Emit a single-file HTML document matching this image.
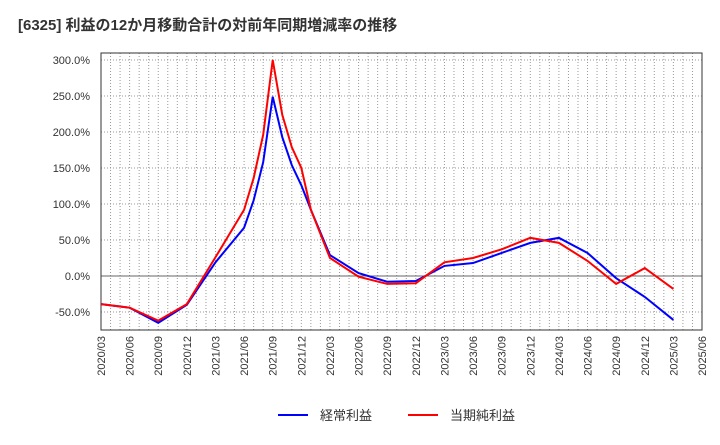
<!DOCTYPE html>
<html><head><meta charset="utf-8"><style>
body{margin:0;background:#fff;font-family:"Liberation Sans","Noto Sans CJK JP",sans-serif;}
</style></head><body>
<svg id="c" width="720" height="440" xmlns="http://www.w3.org/2000/svg">
<text x="18" y="30" font-size="15" font-weight="bold" fill="#333" font-family="Liberation Sans, Noto Sans CJK JP, sans-serif">[6325]  利益の12か月移動合計の対前年同期増減率の推移</text>
</svg>
<script>
const xLabels=["2020/03","2020/06","2020/09","2020/12","2021/03","2021/06","2021/09","2021/12","2022/03","2022/06","2022/09","2022/12","2023/03","2023/06","2023/09","2023/12","2024/03","2024/06","2024/09","2024/12","2025/03","2025/06"];
const yTicks=[-50,0,50,100,150,200,250,300];
const months=[0,3,6,9,12,15,16,17,18,19,20,21,22,24,27,30,33,36,39,42,45,48,51,54,57,60];
const opProfit=[-39,-44,-65,-40,19,67,105,158,249,193,154,126,92,29,4,-8,-7,14,18,32,46,53,32,-3,-29,-61];
const netProfit=[-39,-44,-62,-39,26,92,136,196,300,224,179,150,92,25,-1,-11,-10,19,25,37,53,46,21,-11,11,-18];
const svg=document.getElementById('c');
const NS='http://www.w3.org/2000/svg';
const L=101,R=702,T=53,B=330;
const xs=m=>L+m*(R-L)/63;
const ys=v=>276-v*36/50;
function mk(t,a){const e=document.createElementNS(NS,t);for(const k in a)e.setAttribute(k,a[k]);svg.appendChild(e);return e;}
for(let m=0;m<=63;m++){const g=mk('line',{x1:xs(m),x2:xs(m),y1:T,y2:B,stroke:'#999','stroke-dasharray':'1,2','stroke-width':1});

}
yTicks.forEach(v=>{const g=mk('line',{x1:L,x2:R,y1:ys(v),y2:ys(v),stroke:v===0?'#666':'#999','stroke-dasharray':v===0?'':'1,2','stroke-width':1});


const t=mk('text',{x:90,y:ys(v)+4,'text-anchor':'end','font-size':11,fill:'#333'});t.textContent=v.toFixed(1)+'%';

});
const fr=mk('rect',{x:L,y:T,width:R-L,height:B-T,fill:'none',stroke:'#333'});


xLabels.forEach((s,i)=>{const x=xs(i*3)+4;const t=mk('text',{x:x,y:336,'text-anchor':'end','font-size':11,fill:'#333',transform:`rotate(-90 ${x} 336)`});t.textContent=s;

});
function line(vals,col,name){const p=mk('polyline',{points:months.map((m,i)=>xs(m)+','+ys(vals[i])).join(' '),fill:'none',stroke:col,'stroke-width':2});

}
line(opProfit,'#0000ff','operating-profit-line');
line(netProfit,'#ff0000','net-profit-line');
const l1=mk('line',{x1:278,x2:308,y1:415,y2:415,stroke:'#0000ff','stroke-width':2});


const t1=mk('text',{x:320,y:420,'font-size':13,fill:'#333'});t1.textContent='経常利益';


const l2=mk('line',{x1:408,x2:438,y1:415,y2:415,stroke:'#ff0000','stroke-width':2});


const t2=mk('text',{x:450,y:420,'font-size':13,fill:'#333'});t2.textContent='当期純利益';


</script>
</body></html>
